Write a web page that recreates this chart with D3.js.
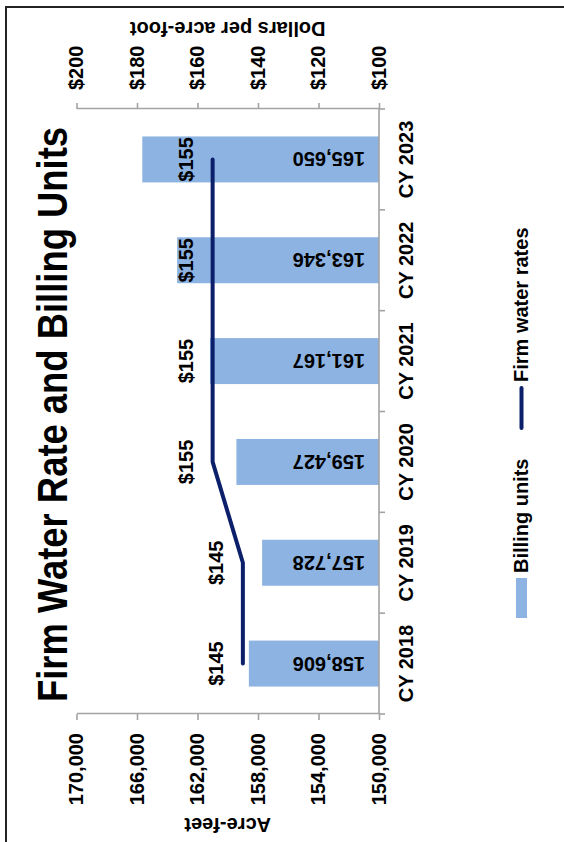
<!DOCTYPE html>
<html>
<head>
<meta charset="utf-8">
<script src="https://cdn.jsdelivr.net/npm/d3@7"></script>
<style>
  html, body { margin: 0; padding: 0; background: #fff; }
  svg { display: block; }
  text { font-family: "Liberation Sans", Arial, Helvetica, sans-serif; font-weight: bold; fill: #000; }
</style>
</head>
<body>
<script>
// Calendar years on the category axis
const categories = ["CY 2018", "CY 2019", "CY 2020", "CY 2021", "CY 2022", "CY 2023"];
// Billing units (acre-feet)
const billingUnits = [158606, 157728, 159427, 161167, 163346, 165650];
// Firm water rate (dollars per acre-foot)
const firmRates = [145, 145, 155, 155, 155, 155];
// Axis ticks
const acreFeetTicks = [150000, 154000, 158000, 162000, 166000, 170000];
const dollarTicks = [100, 120, 140, 160, 180, 200];

const pageW = 564, pageH = 842;
const barColor = "#8db3e2";
const lineColor = "#0c1f6b";
const axisColor = "#a3a3a3";

const svg = d3.select("body").append("svg")
  .attr("width", pageW).attr("height", pageH);

svg.append("rect").attr("width", pageW).attr("height", pageH).attr("fill", "#fff");

// page frame
svg.append("rect")
  .attr("x", 6).attr("y", 7).attr("width", 620).attr("height", 900)
  .attr("fill", "none").attr("stroke", "#222").attr("stroke-width", 2);

// The chart is laid out in landscape and turned a quarter turn on the page
const g = svg.append("g").attr("transform", `translate(0,${pageH}) rotate(-90)`);

const plot = { left: 128, right: 733, top: 76.5, bottom: 379 };

const x = d3.scaleBand()
  .domain(categories)
  .range([plot.left, plot.right])
  .paddingInner(0.544)
  .paddingOuter(0.272);

const yUnits = d3.scaleLinear().domain([150000, 170000]).range([plot.bottom, plot.top]);
const yRate = d3.scaleLinear().domain([100, 200]).range([plot.bottom, plot.top]);

const cx = (i) => x(categories[i]) + x.bandwidth() / 2;

// Bars: billing units
g.append("g").selectAll("rect")
  .data(billingUnits)
  .join("rect")
  .attr("x", (d, i) => x(categories[i]))
  .attr("y", d => yUnits(d))
  .attr("width", x.bandwidth())
  .attr("height", d => plot.bottom - yUnits(d))
  .attr("fill", barColor);

// Bar value labels, running up from the base of each bar
g.append("g").selectAll("text")
  .data(billingUnits)
  .join("text")
  .attr("transform", (d, i) => `translate(${cx(i)},${plot.bottom - 14}) rotate(-90)`)
  .attr("dy", "0.35em")
  .attr("text-anchor", "start")
  .style("font-size", "20px")
  .text(d => d3.format(",")(d));

// Axes
function styleAxis(sel) {
  sel.selectAll("path.domain").attr("stroke", axisColor).attr("stroke-width", 1.6);
  sel.selectAll(".tick line").attr("stroke", axisColor).attr("stroke-width", 1.6);
  sel.selectAll(".tick text")
    .style("font-size", "20px")
    .style("font-family", "'Liberation Sans', Arial, Helvetica, sans-serif")
    .style("font-weight", "bold")
    .attr("fill", "#000");
}

const leftAxis = g.append("g")
  .attr("transform", `translate(${plot.left},0)`)
  .call(d3.axisLeft(yUnits).tickValues(acreFeetTicks).tickFormat(d3.format(","))
    .tickSizeInner(6).tickSizeOuter(0).tickPadding(13));
styleAxis(leftAxis);

const rightAxis = g.append("g")
  .attr("transform", `translate(${plot.right},0)`)
  .call(d3.axisRight(yRate).tickValues(dollarTicks).tickFormat(d => "$" + d)
    .tickSizeInner(6).tickSizeOuter(0).tickPadding(13));
styleAxis(rightAxis);

const bottomAxis = g.append("g")
  .attr("transform", `translate(0,${plot.bottom})`)
  .call(d3.axisBottom(x).tickSize(0).tickPadding(20));
bottomAxis.select("path.domain").remove();
styleAxis(bottomAxis);

// category axis line with ticks at the band boundaries
const gap = (x.step() - x.bandwidth()) / 2;
const boundaries = categories.map(c => x(c) - gap).concat([x(categories[categories.length - 1]) + x.bandwidth() + gap]);
g.append("line")
  .attr("x1", plot.left).attr("x2", plot.right)
  .attr("y1", plot.bottom).attr("y2", plot.bottom)
  .attr("stroke", axisColor).attr("stroke-width", 1.6);
g.append("g").selectAll("line")
  .data(boundaries)
  .join("line")
  .attr("x1", d => d).attr("x2", d => d)
  .attr("y1", plot.bottom).attr("y2", plot.bottom + 6)
  .attr("stroke", axisColor).attr("stroke-width", 1.6);

// Firm water rate line
g.append("path")
  .datum(firmRates)
  .attr("d", d3.line().x((d, i) => cx(i)).y(d => yRate(d)))
  .attr("fill", "none")
  .attr("stroke", lineColor)
  .attr("stroke-width", 4)
  .attr("stroke-linecap", "round")
  .attr("stroke-linejoin", "round");

// Rate labels above the line
g.append("g").selectAll("text")
  .data(firmRates)
  .join("text")
  .attr("x", (d, i) => cx(i))
  .attr("y", d => yRate(d) - 20)
  .attr("text-anchor", "middle")
  .style("font-size", "20px")
  .text(d => "$" + d);

// Title
g.append("text")
  .attr("x", 140)
  .attr("y", 67)
  .attr("textLength", 575)
  .attr("lengthAdjust", "spacingAndGlyphs")
  .style("font-size", "42px")
  .text("Firm Water Rate and Billing Units");

// Axis titles
g.append("text")
  .attr("transform", `translate(24,${(plot.top + plot.bottom) / 2}) rotate(-90)`)
  .attr("text-anchor", "middle")
  .style("font-size", "20px")
  .text("Acre-feet");

g.append("text")
  .attr("transform", `translate(820,${(plot.top + plot.bottom) / 2}) rotate(-90)`)
  .attr("text-anchor", "middle")
  .style("font-size", "20px")
  .text("Dollars per acre-foot");

// Legend
const legend = g.append("g");
legend.append("rect")
  .attr("x", 224).attr("y", 516).attr("width", 40).attr("height", 11)
  .attr("fill", barColor);
legend.append("text")
  .attr("x", 269).attr("y", 528)
  .style("font-size", "20px")
  .text("Billing units");
legend.append("line")
  .attr("x1", 414).attr("x2", 454).attr("y1", 521.5).attr("y2", 521.5)
  .attr("stroke", lineColor).attr("stroke-width", 4).attr("stroke-linecap", "round");
legend.append("text")
  .attr("x", 460).attr("y", 528)
  .style("font-size", "20px")
  .text("Firm water rates");
</script>
</body>
</html>
